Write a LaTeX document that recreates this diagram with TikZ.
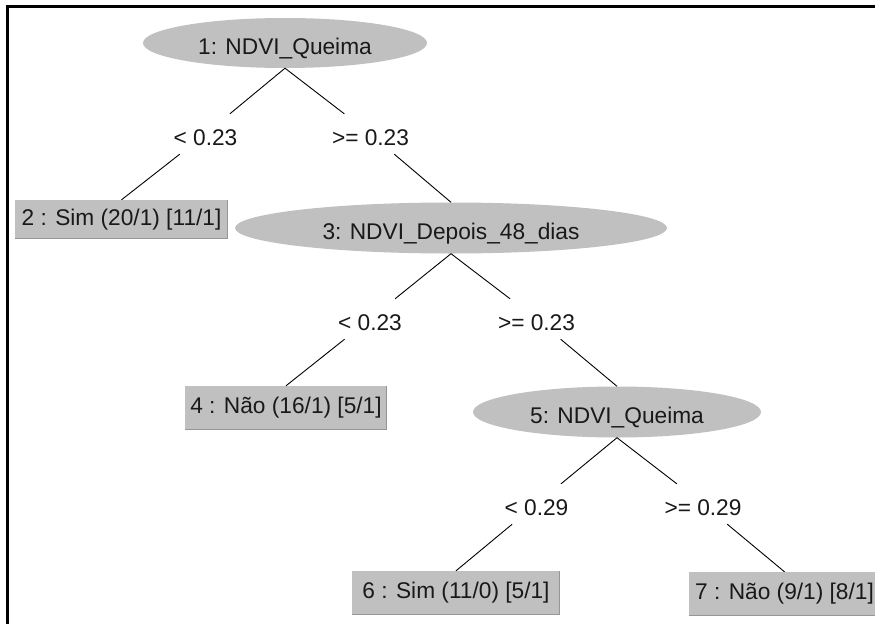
\documentclass[tikz,border=0pt]{standalone}
\usepackage{fontspec}
\setmainfont{Liberation Sans}
\usetikzlibrary{shapes.geometric}
\definecolor{nodegray}{RGB}{192,192,192}
\definecolor{edgedark}{RGB}{150,150,150}
\definecolor{textdark}{RGB}{25,25,25}
\begin{document}
\begin{tikzpicture}[x=1pt,y=-1pt,
  every node/.style={font=\fontsize{22.7}{27}\selectfont, text=textdark},
  split/.style={ellipse, fill=nodegray, inner sep=0pt, text height=28pt, text depth=6pt},
  leaf/.style={rectangle, fill=nodegray, inner sep=0pt, minimum height=44pt},
  cond/.style={inner xsep=2pt, inner ysep=0pt, text height=31pt, text depth=9pt, anchor=base},
  conn/.style={draw=black, line width=0.9pt},
  bevel/.style={draw=edgedark, line width=1.3pt},
  frame/.style={draw=black, line width=3pt}]
\useasboundingbox (0,0) rectangle (875,624);
\clip (0,0) rectangle (875,624);
\fill[white] (0,0) rectangle (875,624);
\draw[frame] (7,624) -- (7,6.5) -- (875,6.5);

% split nodes
\node[split, minimum width=284pt, minimum height=50pt] (e1) at (285,43) {1: NDVI\_Queima};
\node[split, minimum width=432pt, minimum height=51pt] (e3) at (451,228) {3: NDVI\_Depois\_48\_dias};
\node[split, minimum width=288pt, minimum height=51pt] (e5) at (617,412) {5: NDVI\_Queima};

% leaves
\node[leaf, minimum width=213pt, minimum height=39pt] (b2) at (121.5,219.5) {2 : Sim (20/1) [11/1]};
\node[leaf, minimum width=202pt] (b4) at (286,408) {4 : Não (16/1) [5/1]};
\node[leaf, minimum width=208pt] (b6) at (456,593) {6 : Sim (11/0) [5/1]};
\node[leaf, minimum width=191pt] (b7) at (784.5,594) {7 : Não (9/1) [8/1]};

\foreach \b in {b2,b4,b6,b7}{
  \draw[bevel] ([xshift=0.6pt,yshift=0.6pt]\b.south west) -- ([xshift=-0.6pt,yshift=0.6pt]\b.south east) -- ([xshift=-0.6pt,yshift=-0.6pt]\b.north east);
}

% condition labels
\node[cond] (c1a) at (205.5,145) {< 0.23};
\node[cond] (c1b) at (370.5,145) {>= 0.23};
\node[cond] (c3a) at (370,330) {< 0.23};
\node[cond] (c3b) at (536.5,330) {>= 0.23};
\node[cond] (c5a) at (536.5,515) {< 0.29};
\node[cond] (c5b) at (703,515) {>= 0.29};

% connectors
\draw[conn] (e1.south) -- (c1a);
\draw[conn] (c1a) -- (b2.north);
\draw[conn] (e1.south) -- (c1b);
\draw[conn] (c1b) -- (e3.north);
\draw[conn] (e3.south) -- (c3a);
\draw[conn] (c3a) -- (b4.north);
\draw[conn] (e3.south) -- (c3b);
\draw[conn] (c3b) -- (e5.north);
\draw[conn] (e5.south) -- (c5a);
\draw[conn] (c5a) -- (b6.north);
\draw[conn] (e5.south) -- (c5b);
\draw[conn] (c5b) -- (b7.north);
\end{tikzpicture}
\end{document}
